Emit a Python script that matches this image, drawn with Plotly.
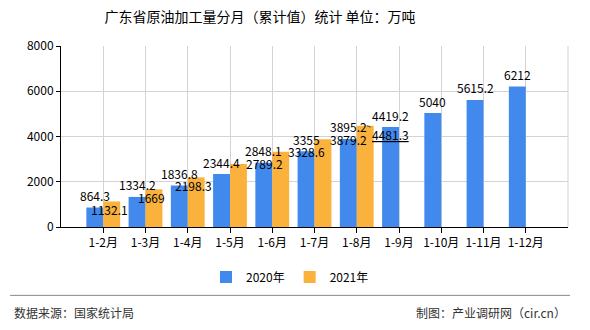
import plotly.graph_objects as go

categories = ["1-2月", "1-3月", "1-4月", "1-5月", "1-6月", "1-7月", "1-8月",
              "1-9月", "1-10月", "1-11月", "1-12月"]
values_2020 = [864.3, 1334.2, 1836.8, 2344.4, 2848.1, 3355, 3895.2,
               4419.2, 5040, 5615.2, 6212]
values_2021 = [1132.1, 1669, 2198.3, 2789.2, 3328.6, 3879.2, 4481.3]
series_names = ["2020年", "2021年"]
y_ticks = [0, 2000, 4000, 6000, 8000]

BLUE = "#4189EC"
ORANGE = "#FAB23D"
FONT = "Noto Sans CJK SC"

fig = go.Figure()
fig.add_trace(go.Bar(x=categories, y=values_2020, name=series_names[0],
                     marker=dict(color=BLUE, line=dict(width=0))))
fig.add_trace(go.Bar(x=categories[:len(values_2021)], y=values_2021,
                     name=series_names[1],
                     marker=dict(color=ORANGE, line=dict(width=0))))

annotations = []
# 2020 labels above blue bars
for c, v in zip(categories, values_2020):
    annotations.append(dict(x=c, y=v, text=str(v), showarrow=False,
                            xshift=-8.5, yshift=12, yanchor="middle",
                            font=dict(size=12, color="#000", family=FONT)))
# 2021 labels (overlap-shifted as in the original)
for i, (c, v) in enumerate(zip(categories, values_2021)):
    if i < 3:
        annotations.append(dict(x=c, y=v, text=str(v), showarrow=False,
                                xshift=6, yshift=-8.5, yanchor="middle",
                                font=dict(size=12, color="#000", family=FONT)))
    elif i < len(values_2021) - 1:
        annotations.append(dict(x=c, y=v, text=str(v), showarrow=False,
                                xshift=34, yshift=0, yanchor="middle",
                                font=dict(size=12, color="#000", family=FONT)))
    else:
        annotations.append(dict(x=c, y=v, text="<u>" + str(v) + "</u>",
                                showarrow=True, arrowhead=0, arrowwidth=1,
                                arrowcolor="#444", ax=24, ay=9, xshift=10,
                                font=dict(size=12, color="#000", family=FONT)))

annotations += [
    dict(xref="paper", yref="paper", x=-0.0966, y=-0.47, xanchor="left",
         yanchor="middle", showarrow=False, text="数据来源：国家统计局",
         font=dict(size=12, color="#333", family=FONT)),
    dict(xref="paper", yref="paper", x=1.0, y=-0.47, xanchor="right",
         yanchor="middle", showarrow=False, text="制图：产业调研网（cir.cn）",
         font=dict(size=12, color="#333", family=FONT)),
]

shapes = [
    dict(type="line", xref="paper", yref="paper", x0=1, x1=1, y0=0, y1=1,
         line=dict(color="#d3d3d3", width=1)),
    dict(type="line", xref="paper", yref="paper", x0=-0.1006, x1=1.004,
         y0=-0.377, y1=-0.377, line=dict(color="#888", width=1)),
]

fig.update_layout(
    width=590, height=330,
    margin=dict(l=61, r=22, t=46, b=101),
    paper_bgcolor="white", plot_bgcolor="white",
    barmode="group", bargap=0.2, bargroupgap=0,
    font=dict(family=FONT, size=12, color="#000"),
    title=dict(text="广东省原油加工量分月（累计值）统计 单位：万吨",
               x=260 / 590, xref="container", xanchor="center",
               y=1 - 17 / 330, yref="container", yanchor="middle",
               font=dict(size=14, color="#000", family=FONT)),
    legend=dict(orientation="h", xref="container", yref="container",
                x=290 / 590, xanchor="center", y=1 - 277 / 330,
                yanchor="middle", font=dict(size=12, color="#000"),
                itemsizing="constant"),
    xaxis=dict(type="category", range=[-1, len(categories)],
               showgrid=True, gridcolor="#d3d3d3", gridwidth=1,
               showline=True, linecolor="#000", linewidth=1,
               ticks="outside", ticklen=5, tickcolor="#000",
               tickfont=dict(size=12, color="#000"), fixedrange=True),
    yaxis=dict(range=[0, 8000], tickvals=y_ticks,
               ticktext=[str(t) for t in y_ticks],
               showgrid=True, gridcolor="#d3d3d3", gridwidth=1,
               showline=True, linecolor="#000", linewidth=1,
               ticks="outside", ticklen=4, tickcolor="#000",
               tickfont=dict(size=12, color="#000"), zeroline=False),
    annotations=annotations,
    shapes=shapes,
)

fig.write_html("out.html")
